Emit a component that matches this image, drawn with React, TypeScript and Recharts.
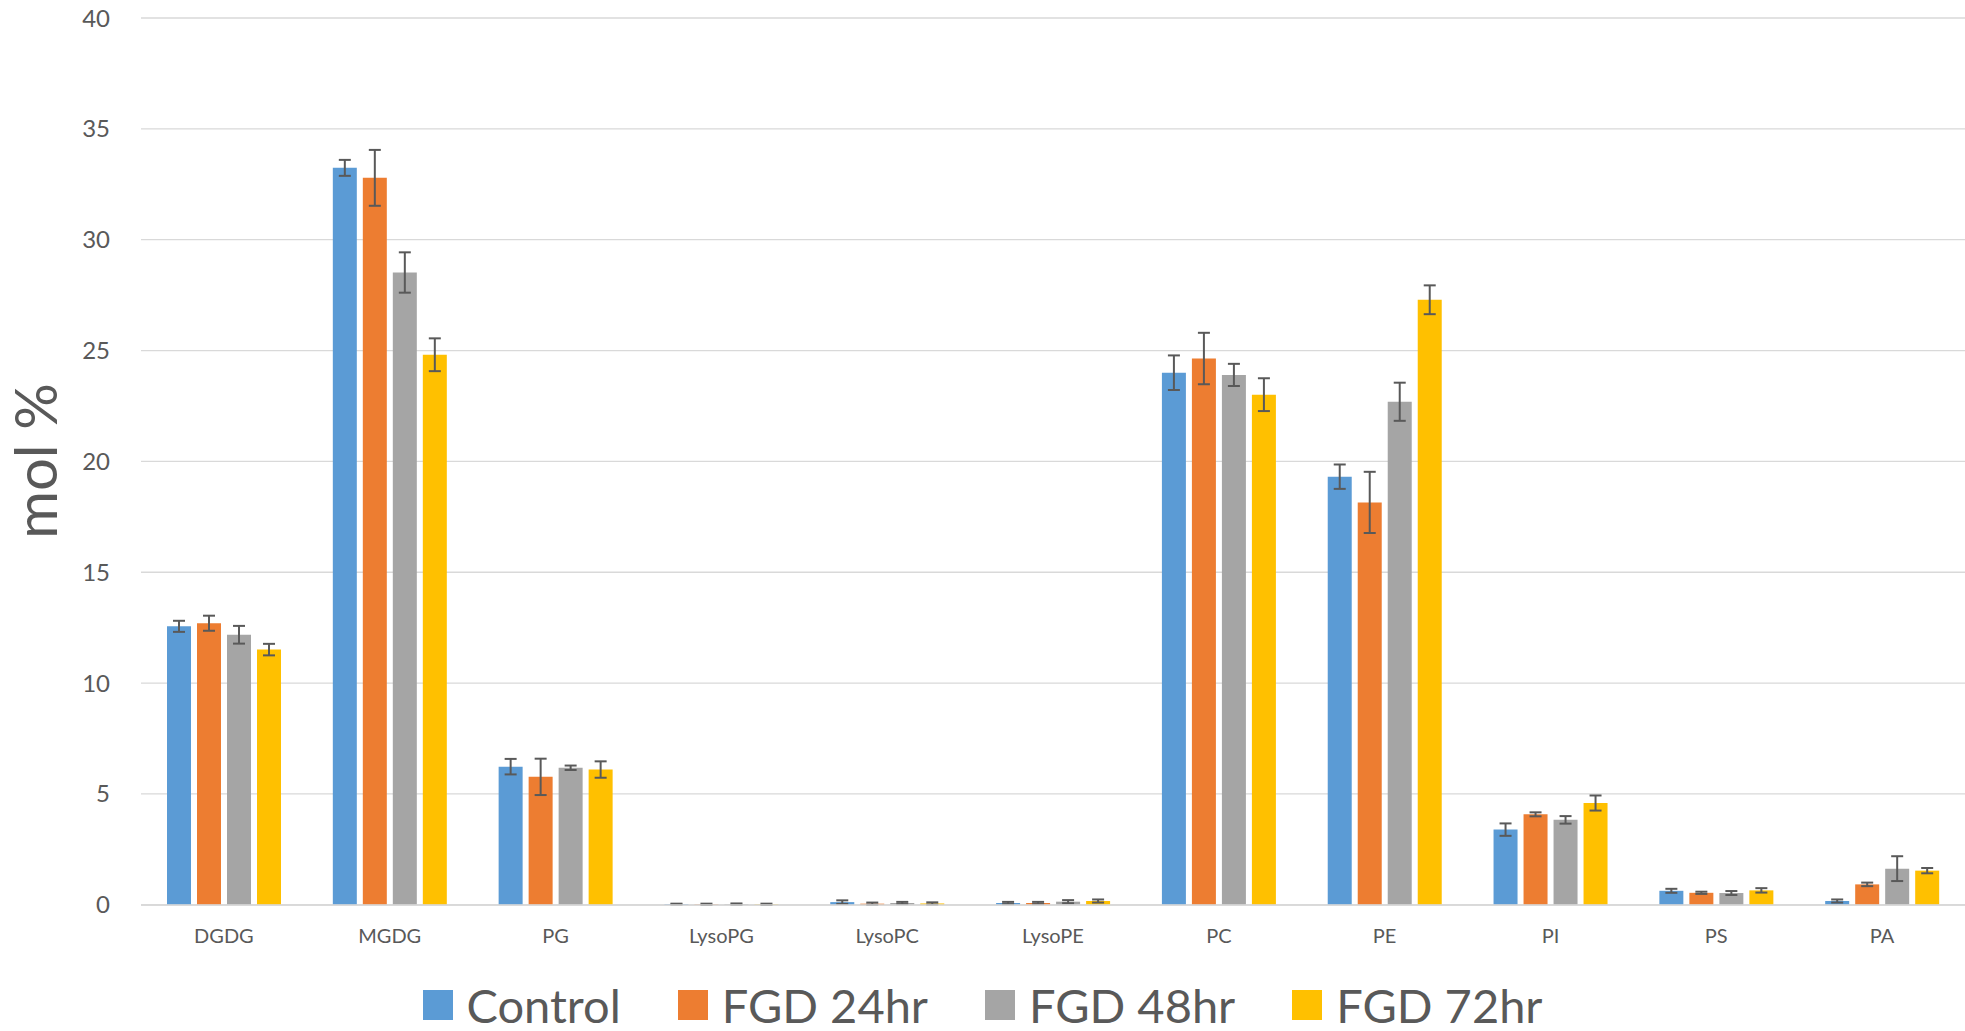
import { Bar, BarChart, CartesianGrid, ErrorBar, XAxis, YAxis } from 'recharts';

const categories = ['DGDG', 'MGDG', 'PG', 'LysoPG', 'LysoPC', 'LysoPE', 'PC', 'PE', 'PI', 'PS', 'PA'];

const control = [12.56, 33.24, 6.23, 0.03, 0.12, 0.08, 24.0, 19.31, 3.39, 0.63, 0.17];
const controlErr = [0.25, 0.36, 0.35, 0.02, 0.08, 0.05, 0.78, 0.55, 0.28, 0.09, 0.07];
const fgd24 = [12.7, 32.79, 5.77, 0.02, 0.05, 0.08, 24.64, 18.15, 4.08, 0.54, 0.92];
const fgd24Err = [0.34, 1.26, 0.82, 0.03, 0.05, 0.05, 1.16, 1.38, 0.09, 0.05, 0.08];
const fgd48 = [12.18, 28.52, 6.18, 0.03, 0.08, 0.14, 23.9, 22.69, 3.83, 0.53, 1.63];
const fgd48Err = [0.4, 0.91, 0.1, 0.03, 0.05, 0.07, 0.5, 0.86, 0.17, 0.09, 0.56];
const fgd72 = [11.51, 24.81, 6.1, 0.02, 0.06, 0.17, 23.01, 27.29, 4.59, 0.65, 1.54];
const fgd72Err = [0.26, 0.74, 0.37, 0.03, 0.05, 0.07, 0.74, 0.65, 0.34, 0.1, 0.12];

const yTicks = [0, 5, 10, 15, 20, 25, 30, 35, 40];

const series = [
  { key: 'control', name: 'Control', color: '#5B9BD5' },
  { key: 'fgd24', name: 'FGD 24hr', color: '#ED7D31' },
  { key: 'fgd48', name: 'FGD 48hr', color: '#A5A5A5' },
  { key: 'fgd72', name: 'FGD 72hr', color: '#FFC000' },
];

const data = categories.map((name, i) => ({
  name,
  control: control[i],
  controlErr: controlErr[i],
  fgd24: fgd24[i],
  fgd24Err: fgd24Err[i],
  fgd48: fgd48[i],
  fgd48Err: fgd48Err[i],
  fgd72: fgd72[i],
  fgd72Err: fgd72Err[i],
}));

const FONT = 'Lato, "Open Sans", sans-serif';
const TEXT = '#595959';

export default function App() {
  return (
    <div
      style={{
        position: 'absolute',
        left: 0,
        top: 0,
        width: 1965,
        height: 1031,
        background: '#fff',
        fontFamily: FONT,
        overflow: 'hidden',
      }}
    >
      <BarChart
        width={1965}
        height={1031}
        data={data}
        margin={{ top: 18, right: 0, bottom: 86, left: 0 }}
        barSize={24}
        barGap={6}
      >
        <CartesianGrid vertical={false} stroke="#d9d9d9" strokeWidth={1.3} />
        <XAxis
          dataKey="name"
          height={40}
          axisLine={{ stroke: '#d9d9d9', strokeWidth: 1.5 }}
          tickLine={false}
          tickSize={0}
          tickMargin={24}
          tick={{ fontSize: 20, fill: TEXT, fontFamily: FONT }}
          interval={0}
        />
        <YAxis
          width={141}
          domain={[0, 40]}
          ticks={yTicks}
          axisLine={false}
          tickLine={false}
          tickSize={0}
          tickMargin={31}
          tick={{ fontSize: 24, fill: TEXT, fontFamily: FONT }}
        />
        {series.map((s) => (
          <Bar key={s.key} dataKey={s.key} name={s.name} fill={s.color} isAnimationActive={false}>
            <ErrorBar
              dataKey={`${s.key}Err`}
              direction="y"
              width={6}
              stroke="#595959"
              strokeWidth={2}
              isAnimationActive={false}
            />
          </Bar>
        ))}
      </BarChart>

      <div
        style={{
          position: 'absolute',
          left: 35,
          top: 461,
          transform: 'translate(-50%, -50%) rotate(-90deg)',
          fontSize: 58,
          color: TEXT,
          whiteSpace: 'nowrap',
          lineHeight: 1,
        }}
      >
        mol %
      </div>

      <div
        style={{
          position: 'absolute',
          left: 0,
          width: 1965,
          top: 980,
          height: 50,
          display: 'flex',
          justifyContent: 'center',
          alignItems: 'center',
          gap: 57,
        }}
      >
        {series.map((s) => (
          <div key={s.key} style={{ display: 'flex', alignItems: 'center', gap: 14 }}>
            <div style={{ width: 30, height: 30, background: s.color }} />
            <span style={{ fontSize: 47, color: TEXT, lineHeight: 1 }}>{s.name}</span>
          </div>
        ))}
      </div>
    </div>
  );
}
